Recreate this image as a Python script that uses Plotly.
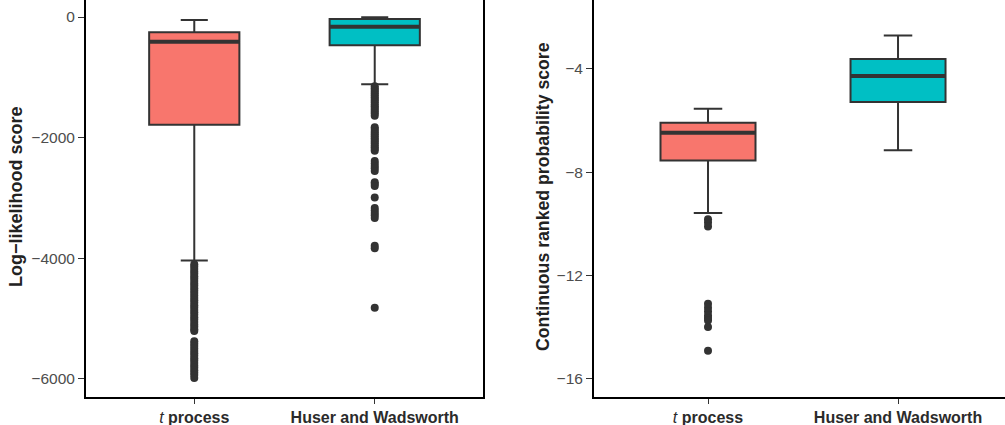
import plotly.graph_objects as go

W, H = 1005, 425

categories = ["<i>t</i> <b>process</b>", "<b>Huser and Wadsworth</b>"]
box_colors = ["#F8766D", "#00BFC4"]

# Panel 1: log-likelihood score (box stats per category)
ll_lower = [-4038, -1117]
ll_q1 = [-1788, -470]
ll_median = [-410, -161]
ll_q3 = [-254, -33]
ll_upper = [-50, -5]
ll_out_t = [-4100, -4140, -4180, -4220, -4260, -4300, -4340, -4380, -4420, -4460,
            -4500, -4540, -4580, -4620, -4660, -4700, -4740, -4780, -4820, -4860,
            -4900, -4940, -4980, -5020, -5060, -5100, -5140, -5180, -5210,
            -5380, -5420, -5460, -5500, -5540, -5580, -5620, -5660, -5700, -5740,
            -5780, -5820, -5860, -5900, -5940, -5990]
ll_out_h = [-1150, -1180, -1210, -1240, -1270, -1300, -1330, -1360, -1390, -1420,
            -1450, -1480, -1510, -1540, -1570, -1600, -1640,
            -1830, -1860, -1890, -1920, -1950, -1980, -2010, -2040, -2070, -2100,
            -2130, -2160, -2190, -2220,
            -2390, -2430, -2470, -2510, -2555,
            -2740, -2770, -2805,
            -2995,
            -3170, -3210, -3250, -3290, -3335,
            -3795, -3835,
            -4825]

# Panel 2: continuous ranked probability score
cr_lower = [-9.58, -7.15]
cr_q1 = [-7.55, -5.28]
cr_median = [-6.47, -4.27]
cr_q3 = [-6.09, -3.62]
cr_upper = [-5.54, -2.71]
cr_out_t = [-9.82, -9.95, -10.1, -13.1, -13.25, -13.4, -13.55, -13.65, -13.75, -14.0, -14.92]
cr_out_h = []

ll_ticks = [0, -2000, -4000, -6000]
cr_ticks = [-4, -8, -12, -16]

BOX_W = 0.5
LINE = "#333333"

fig = go.Figure()


def add_panel(xa, ya, lower, q1, med, q3, upper, outs):
    for i in range(len(categories)):
        fig.add_trace(go.Box(
            x=[i], q1=[q1[i]], median=[med[i]], q3=[q3[i]],
            lowerfence=[lower[i]], upperfence=[upper[i]],
            width=BOX_W, whiskerwidth=0.3, fillcolor=box_colors[i],
            line=dict(color=LINE, width=2), boxpoints=False,
            xaxis=xa, yaxis=ya, showlegend=False, hoverinfo="skip"))
        fig.add_trace(go.Scatter(
            x=[i - BOX_W / 2, i + BOX_W / 2], y=[med[i], med[i]], mode="lines",
            line=dict(color=LINE, width=4), xaxis=xa, yaxis=ya,
            showlegend=False, hoverinfo="skip"))
        if outs[i]:
            fig.add_trace(go.Scatter(
                x=[i] * len(outs[i]), y=outs[i], mode="markers",
                marker=dict(color=LINE, size=8), xaxis=xa, yaxis=ya,
                showlegend=False, hoverinfo="skip"))


add_panel("x", "y", ll_lower, ll_q1, ll_median, ll_q3, ll_upper, [ll_out_t, ll_out_h])
add_panel("x2", "y2", cr_lower, cr_q1, cr_median, cr_q3, cr_upper, [cr_out_t, cr_out_h])

FONT = "Liberation Sans, Arial, sans-serif"
xcommon = dict(tickvals=[0, 1], ticktext=categories, showgrid=False, zeroline=False,
               showline=True, linecolor="black", linewidth=2, ticks="outside",
               ticklen=5, tickcolor=LINE, tickwidth=1.3,
               tickfont=dict(family=FONT, size=16, color="#2b2b2b"))
ycommon = dict(showgrid=False, zeroline=False, showline=True, linecolor="black",
               linewidth=2, ticks="outside", ticklen=6, tickcolor=LINE, tickwidth=1.3,
               tickfont=dict(family=FONT, size=15.5, color="#4D4D4D"))

fig.update_layout(
    width=W, height=H, margin=dict(l=0, r=0, t=0, b=0),
    paper_bgcolor="white", plot_bgcolor="white",
    xaxis=dict(domain=[86 / W, 483 / W], range=[-0.6, 1.6], **xcommon),
    xaxis2=dict(domain=[594 / W, 1.0], range=[-0.6, 1.563], anchor="y2", **xcommon),
    yaxis=dict(domain=[28 / H, 1.0], range=[-6304, 282], tickvals=ll_ticks,
               mirror=True, anchor="x", **ycommon),
    yaxis2=dict(domain=[28 / H, 1.0], range=[-16.71, -1.33], tickvals=cr_ticks,
                anchor="x2", **ycommon),
    annotations=[
        dict(text="<b>Log−likelihood score</b>", x=16 / W, y=(H - 197) / H,
             xref="paper", yref="paper", textangle=-90, showarrow=False,
             xanchor="center", yanchor="middle",
             font=dict(family=FONT, size=18, color="#222222")),
        dict(text="<b>Continuous ranked probability score</b>", x=543 / W, y=(H - 197) / H,
             xref="paper", yref="paper", textangle=-90, showarrow=False,
             xanchor="center", yanchor="middle",
             font=dict(family=FONT, size=17.7, color="#222222")),
    ],
)

fig.write_html("out.html", config={"displayModeBar": False},
               post_script="document.body.style.margin='0';document.body.style.padding='0';document.body.style.overflow='hidden';")
